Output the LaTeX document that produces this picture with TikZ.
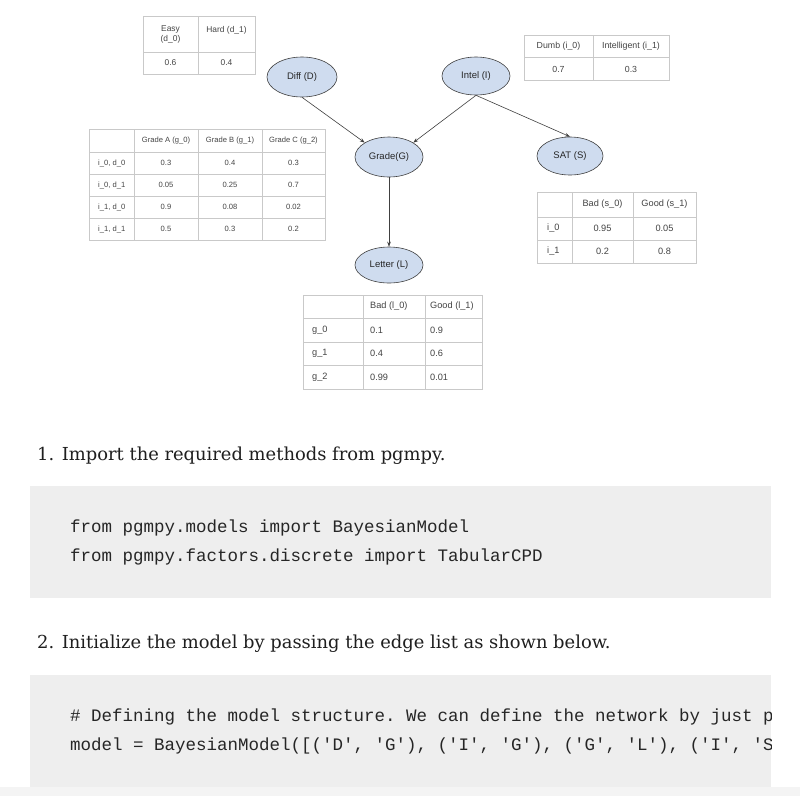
\documentclass[tikz,border=0pt]{standalone}
\usepackage{fontspec}
\setmainfont{DejaVu Serif}
\setsansfont{Liberation Sans}
\setmonofont{Liberation Mono}
\usetikzlibrary{arrows.meta,shapes.geometric}
\definecolor{gridc}{HTML}{C9C9C9}
\definecolor{txt}{HTML}{444444}
\definecolor{nodefill}{HTML}{CFDCEF}
\definecolor{codebg}{HTML}{EEEEEE}
\definecolor{strip}{HTML}{F4F4F4}
\begin{document}
\begin{tikzpicture}[x=1pt,y=-1pt,
  grid/.style={draw=gridc, line width=0.7pt},
  cell/.style={font=\sffamily\fontsize{8.4}{10}\selectfont, text=txt, inner sep=0pt, align=center},
  cellG/.style={cell, font=\sffamily\fontsize{7.6}{9}\selectfont},
  cellS/.style={cell, font=\sffamily\fontsize{9.2}{11}\selectfont},
  var/.style={ellipse, draw=black!75, fill=nodefill, line width=0.6pt, inner sep=0pt, font=\sffamily\fontsize{9.5}{11}\selectfont, text=black!85},
  edge/.style={draw=black!75, line width=0.6pt, -{Stealth[length=5pt,width=3.6pt]}},
  code/.style={font=\ttfamily\fontsize{17.5}{19}\selectfont, anchor=base west, inner sep=0pt, text=black!85},
  head/.style={font=\fontsize{17.9}{21}\selectfont, anchor=base west, inner sep=0pt, text=black!88}]
\useasboundingbox (0,0) rectangle (800,796);
\fill[white] (0,0) rectangle (800,796);

% ---------- Table D ----------
\draw[grid] (143,16) rectangle (255,74) (198,16) -- (198,74) (143,52) -- (255,52);
\node[cell] (d1) at (170.5,34) {Easy\\(d\_0)};
\node[cell] (d2) at (226.5,30) {Hard (d\_1)};
\node[cell] (d3) at (170.5,63) {0.6};
\node[cell] (d4) at (226.5,63) {0.4};

% ---------- Table I ----------
\draw[grid] (524,35) rectangle (669,80) (593,35) -- (593,80) (524,57) -- (669,57);
\node[cell, font=\sffamily\fontsize{8.8}{10}\selectfont] (i1) at (558.5,46) {Dumb (i\_0)};
\node[cell, font=\sffamily\fontsize{8.8}{10}\selectfont] (i2) at (631,46) {Intelligent (i\_1)};
\node[cell, font=\sffamily\fontsize{8.8}{10}\selectfont] (i3) at (558.5,69) {0.7};
\node[cell, font=\sffamily\fontsize{8.8}{10}\selectfont] (i4) at (631,69) {0.3};

% ---------- Table G ----------
\draw[grid] (89,129) rectangle (325,240);
\foreach \x in {134,198,262} \draw[grid] (\x,129) -- (\x,240);
\foreach \y in {152,174,196,218} \draw[grid] (89,\y) -- (325,\y);
\node[cellG] (g01) at (166,140.5) {Grade A (g\_0)};
\node[cellG] (g02) at (230,140.5) {Grade B (g\_1)};
\node[cellG] (g03) at (293.5,140.5) {Grade C (g\_2)};
\node[cellG, anchor=west] (g10) at (98,163) {i\_0, d\_0};
\node[cellG] (g11) at (166,163) {0.3};
\node[cellG] (g12) at (230,163) {0.4};
\node[cellG] (g13) at (293.5,163) {0.3};
\node[cellG, anchor=west] (g20) at (98,185) {i\_0, d\_1};
\node[cellG] (g21) at (166,185) {0.05};
\node[cellG] (g22) at (230,185) {0.25};
\node[cellG] (g23) at (293.5,185) {0.7};
\node[cellG, anchor=west] (g30) at (98,207) {i\_1, d\_0};
\node[cellG] (g31) at (166,207) {0.9};
\node[cellG] (g32) at (230,207) {0.08};
\node[cellG] (g33) at (293.5,207) {0.02};
\node[cellG, anchor=west] (g40) at (98,229) {i\_1, d\_1};
\node[cellG] (g41) at (166,229) {0.5};
\node[cellG] (g42) at (230,229) {0.3};
\node[cellG] (g43) at (293.5,229) {0.2};

% ---------- Table S ----------
\draw[grid] (537,192) rectangle (696,263) (572,192) -- (572,263) (633,192) -- (633,263)
  (537,217) -- (696,217) (537,240) -- (696,240);
\node[cellS] (s01) at (602.5,204.5) {Bad (s\_0)};
\node[cellS] (s02) at (664.5,204.5) {Good (s\_1)};
\node[cellS, anchor=west] (s10) at (547,228.5) {i\_0};
\node[cellS] (s11) at (602.5,228.5) {0.95};
\node[cellS] (s12) at (664.5,228.5) {0.05};
\node[cellS, anchor=west] (s20) at (547,251.5) {i\_1};
\node[cellS] (s21) at (602.5,251.5) {0.2};
\node[cellS] (s22) at (664.5,251.5) {0.8};

% ---------- Table L ----------
\draw[grid] (303,295) rectangle (482,389) (363,295) -- (363,389) (425,295) -- (425,389)
  (303,318) -- (482,318) (303,342) -- (482,342) (303,365) -- (482,365);
\node[cellS, anchor=west] (l01) at (370,306.5) {Bad (l\_0)};
\node[cellS, anchor=west] (l02) at (430,306.5) {Good (l\_1)};
\node[cellS, anchor=west] (l10) at (312,330) {g\_0};
\node[cellS, anchor=west] (l11) at (370,330) {0.1};
\node[cellS, anchor=west] (l12) at (430,330) {0.9};
\node[cellS, anchor=west] (l20) at (312,353.5) {g\_1};
\node[cellS, anchor=west] (l21) at (370,353.5) {0.4};
\node[cellS, anchor=west] (l22) at (430,353.5) {0.6};
\node[cellS, anchor=west] (l30) at (312,377) {g\_2};
\node[cellS, anchor=west] (l31) at (370,377) {0.99};
\node[cellS, anchor=west] (l32) at (430,377) {0.01};

% ---------- Network ----------
\node[var, minimum width=70pt, minimum height=40pt] (D) at (302,77) {Diff (D)};
\node[var, minimum width=68pt, minimum height=38pt] (I) at (476,76) {Intel (I)};
\node[var, minimum width=68pt, minimum height=40pt] (G) at (389,157) {Grade(G)};
\node[var, minimum width=68pt, minimum height=36pt] (L) at (389,265) {Letter (L)};
\node[var, minimum width=66pt, minimum height=38pt] (S) at (570,156) {SAT (S)};
\draw[edge] (D.south) -- (G.north west);
\draw[edge] (I.south) -- (G.north east);
\draw[edge] (G.south) -- (L.north);
\draw[edge] (I.south) -- (S.north);

% ---------- Text below ----------
\node[head] (h1) at (37,460) {1. Import the required methods from pgmpy.};
\fill[codebg] (30,486) rectangle (771,598);
\node[code] (c1) at (70,532) {from pgmpy.models import BayesianModel};
\node[code] (c2) at (70,561) {from pgmpy.factors.discrete import TabularCPD};

\node[head] (h2) at (37,648) {2. Initialize the model by passing the edge list as shown below.};
\fill[codebg] (30,675) rectangle (771,787);
\begin{scope}
\clip (30,675) rectangle (771,787);
\node[code] (c3) at (70,721) {\# Defining the model structure. We can define the network by just passing};
\node[code] (c4) at (70,750) {model = BayesianModel([('D', 'G'), ('I', 'G'), ('G', 'L'), ('I', 'S')])};
\end{scope}
\fill[strip] (0,787) rectangle (800,796);
\end{tikzpicture}
\end{document}
